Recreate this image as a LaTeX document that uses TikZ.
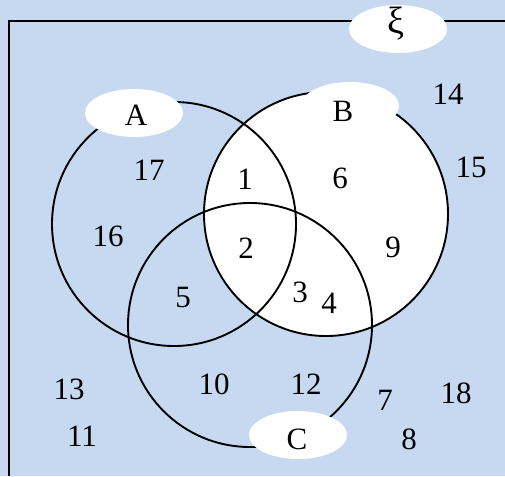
\documentclass[tikz,border=0pt]{standalone}
\usepackage{fontspec}
\setmainfont{Liberation Serif}
\usetikzlibrary{shapes.geometric}
\definecolor{skyfill}{RGB}{198,217,241}

\begin{document}
\begin{tikzpicture}[
        x=1pt, y=-1pt,
        setline/.style={draw=black, line width=1.9pt},
        setcircle/.style={circle, setline, minimum size=244pt, inner sep=0pt},
        tagoval/.style={ellipse, fill=white, minimum width=98pt, minimum height=48pt, inner sep=0pt},
        numlabel/.style={font=\fontsize{31}{34}\selectfont, inner sep=0pt},
    ]

    %% ---- Background and universal frame ----
    \fill[skyfill] (0,0) rectangle (505,476);
    \useasboundingbox (0,0) rectangle (505,476);
    \draw[setline] (9,476) -- (9,21) -- (505,21);

    %% ---- Sets A, B, C ----
    \node[setcircle, fill=white] (setB) at (326,214) {};
    \node[setcircle] (setA) at (174,224) {};
    \node[setcircle] (setC) at (250,325) {};

    %% ---- Name tags ----
    \node[tagoval] (ovalXi) at (398,29) {};
    \node[tagoval] (ovalA) at (134,113) {};
    \node[tagoval] (ovalB) at (350,106) {};
    \node[tagoval] (ovalC) at (298,435) {};
    \node[numlabel, font=\fontsize{38}{40}\selectfont] (labXi) at (396,24) {ξ};
    \node[numlabel] (labA) at (136,115) {A};
    \node[numlabel] (labB) at (343,111) {B};
    \node[numlabel] (labC) at (297,439) {C};

    % Elements
    \foreach \n/\px/\py in {
        17/149/170, 16/108/236, 1/245/179, 6/340/178, 2/246/248, 9/393/247,
        5/183/297, 3/300/292, 4/329/303, 14/448/94, 15/471/167,
        13/69/389, 11/82/436, 10/214/384, 12/306/384, 7/385/400,
        18/456/393, 8/409/439
    } { \node[numlabel] (n\n) at (\px,\py) {\n}; }

\end{tikzpicture}
\end{document}
